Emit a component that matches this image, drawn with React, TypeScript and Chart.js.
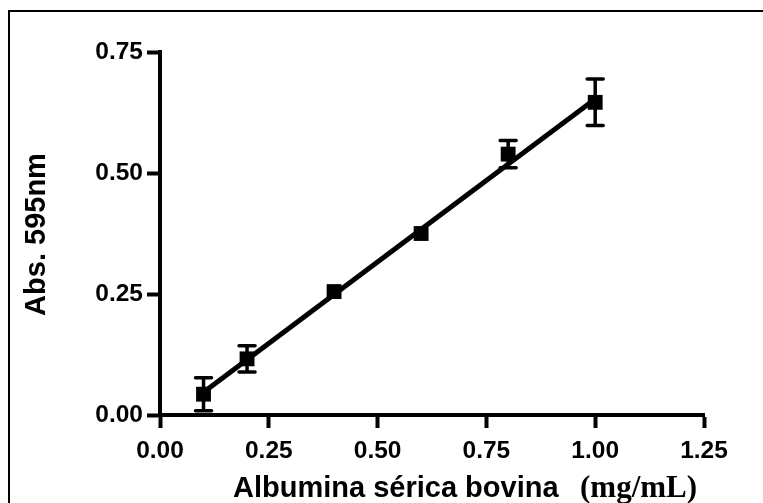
import React, { useEffect, useRef } from "react";
import { Chart, registerables } from "chart.js";

Chart.register(...registerables);

const concentrations = [0.1, 0.2, 0.4, 0.6, 0.8, 1.0];
const absorbance = [0.043, 0.116, 0.255, 0.375, 0.539, 0.646];
const absError = [0.034, 0.027, 0, 0, 0.028, 0.048];
const fitX = [0.1, 1.0];
const fitY = [0.047, 0.653];
const xTicks = [0, 0.25, 0.5, 0.75, 1.0, 1.25];
const yTicks = [0, 0.25, 0.5, 0.75];
const xTitleMain = "Albumina sérica bovina";
const xTitleUnit = "(mg/mL)";
const yTitle = "Abs. 595nm";

const SANS = "'Liberation Sans', Arial, sans-serif";
const SERIF = "'Liberation Serif', 'Times New Roman', serif";

const decorPlugin = {
  id: "decor",
  beforeDraw(chart: any) {
    const ctx = chart.ctx;
    ctx.save();
    ctx.fillStyle = "#000";
    ctx.fillRect(8, 10, chart.width - 8, 2);
    ctx.fillRect(8, 10, 2, chart.height - 10);
    ctx.restore();
  },
  afterDatasetsDraw(chart: any) {
    const ctx = chart.ctx;
    const xs = chart.scales.x;
    const ys = chart.scales.y;
    ctx.save();
    ctx.strokeStyle = "#000";
    ctx.lineWidth = 3.5;
    ctx.lineCap = "round";
    const capHalf = 8;
    concentrations.forEach((c, i) => {
      const e = absError[i];
      if (!e) return;
      const px = xs.getPixelForValue(c);
      const top = ys.getPixelForValue(absorbance[i] + e);
      const bot = ys.getPixelForValue(absorbance[i] - e);
      ctx.beginPath();
      ctx.moveTo(px, top);
      ctx.lineTo(px, bot);
      ctx.moveTo(px - capHalf, top);
      ctx.lineTo(px + capHalf, top);
      ctx.moveTo(px - capHalf, bot);
      ctx.lineTo(px + capHalf, bot);
      ctx.stroke();
    });
    ctx.restore();
  },
  afterDraw(chart: any) {
    const ctx = chart.ctx;
    const area = chart.chartArea;
    ctx.save();
    ctx.fillStyle = "#000";
    ctx.translate(45, (area.top + area.bottom) / 2 + 1);
    ctx.rotate(-Math.PI / 2);
    ctx.font = `bold 29px ${SANS}`;
    ctx.textAlign = "center";
    ctx.textBaseline = "alphabetic";
    ctx.fillText(yTitle, 0, 0);
    ctx.restore();

    ctx.save();
    ctx.fillStyle = "#000";
    ctx.textAlign = "left";
    ctx.textBaseline = "alphabetic";
    ctx.font = `bold 29px ${SANS}`;
    const base = 497;
    ctx.fillText(xTitleMain, 233, base);
    ctx.font = `bold 31px ${SERIF}`;
    ctx.fillText(xTitleUnit, 580, base);
    ctx.restore();
  },
};

export default function App() {
  const ref = useRef<HTMLCanvasElement>(null);

  useEffect(() => {
    if (!ref.current) return;
    const tickFont = { family: SANS, size: 24.5, weight: "bold" as const };
    const chart = new Chart(ref.current, {
      type: "scatter",
      data: {
        datasets: [
          {
            type: "line" as const,
            data: fitX.map((x, i) => ({ x, y: fitY[i] })),
            borderColor: "#000",
            borderWidth: 5,
            pointRadius: 0,
            fill: false,
            tension: 0,
          },
          {
            type: "scatter" as const,
            data: concentrations.map((x, i) => ({ x, y: absorbance[i] })),
            pointStyle: "rect",
            pointRadius: 10.5,
            backgroundColor: "#000",
            borderColor: "#000",
            borderWidth: 0,
          },
        ],
      },
      options: {
        responsive: false,
        animation: false,
        devicePixelRatio: 1,
        layout: { padding: { left: 0, top: 52, right: 59, bottom: 0 } },
        plugins: {
          legend: { display: false },
          tooltip: { enabled: false },
          title: { display: false },
        },
        scales: {
          x: {
            type: "linear",
            min: 0,
            max: 1.25,
            afterBuildTicks: (s: any) => {
              s.ticks = xTicks.map((v) => ({ value: v }));
            },
            afterFit: (s: any) => {
              s.height = 88;
            },
            ticks: {
              font: tickFont,
              color: "#000",
              padding: 9,
              maxRotation: 0,
              autoSkip: false,
              callback: (v: any) => Number(v).toFixed(2),
            },
            grid: {
              drawOnChartArea: false,
              drawTicks: true,
              tickLength: 13,
              tickWidth: 4,
              tickColor: "#000",
            },
            border: { display: true, color: "#000", width: 4 },
          },
          y: {
            type: "linear",
            min: 0,
            max: 0.75,
            afterBuildTicks: (s: any) => {
              s.ticks = yTicks.map((v) => ({ value: v }));
            },
            afterFit: (s: any) => {
              s.width = 160;
            },
            ticks: {
              font: tickFont,
              color: "#000",
              padding: 4,
              autoSkip: false,
              callback: (v: any) => Number(v).toFixed(2),
            },
            grid: {
              drawOnChartArea: false,
              drawTicks: true,
              tickLength: 13,
              tickWidth: 4,
              tickColor: "#000",
            },
            border: { display: true, color: "#000", width: 4 },
          },
        },
      },
      plugins: [decorPlugin],
    });
    return () => chart.destroy();
  }, []);

  return (
    <div
      style={{
        position: "fixed",
        left: 0,
        top: 0,
        width: 763,
        height: 503,
        background: "#fff",
        overflow: "hidden",
      }}
    >
      <canvas ref={ref} width={763} height={503} style={{ display: "block" }} />
    </div>
  );
}
